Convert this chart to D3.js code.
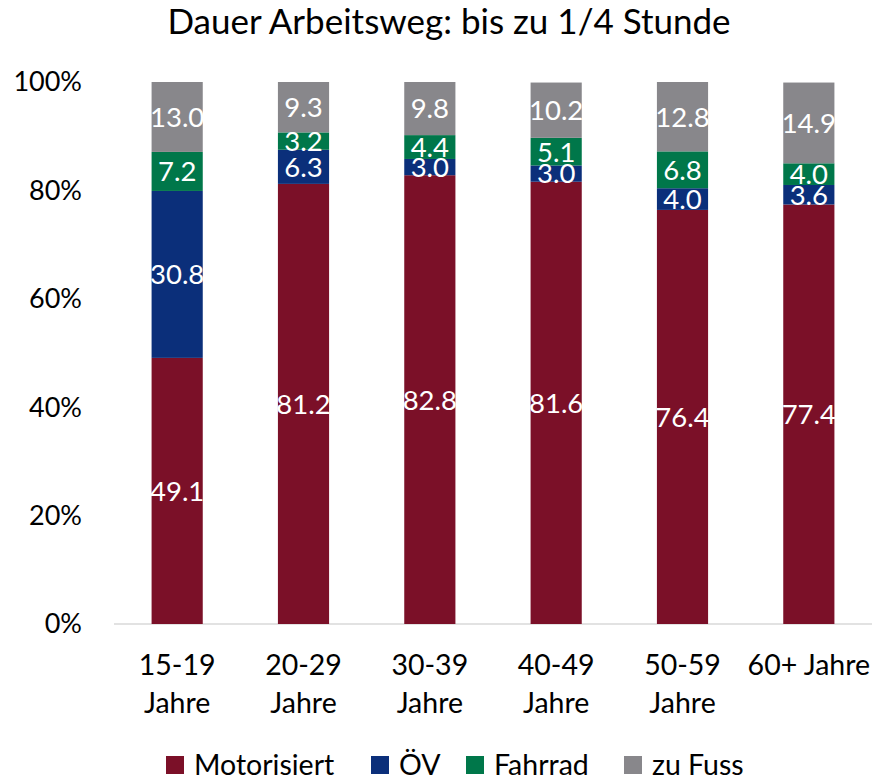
<!DOCTYPE html>
<html><head><meta charset="utf-8">
<script src="https://cdn.jsdelivr.net/npm/d3@7"></script>
<style>body{margin:0;background:#fff;} svg{display:block;font-family:Lato,"Open Sans",sans-serif;}</style>
</head><body><svg id="c" width="877" height="781"></svg>
<script>
const categories = ["15-19 Jahre","20-29 Jahre","30-39 Jahre","40-49 Jahre","50-59 Jahre","60+ Jahre"];
const catLines = [["15-19","Jahre"],["20-29","Jahre"],["30-39","Jahre"],["40-49","Jahre"],["50-59","Jahre"],["60+ Jahre"]];
const seriesNames = ["Motorisiert","ÖV","Fahrrad","zu Fuss"];
const motorisiert = [49.1,81.2,82.8,81.6,76.4,77.4];
const oev = [30.8,6.3,3.0,3.0,4.0,3.6];
const fahrrad = [7.2,3.2,4.4,5.1,6.8,4.0];
const zuFuss = [13.0,9.3,9.8,10.2,12.8,14.9];
const yTicks = [0,20,40,60,80,100];
const colors = ["#7b1028","#0b2f7a","#00774a","#88878b"];
const title = "Dauer Arbeitsweg: bis zu 1/4 Stunde";

const svg = d3.select("#c");
const m = {l:114, r:5, t:82, b:157};
const W = 877, H = 781;
const x = d3.scaleBand().domain(categories).range([m.l, W-m.r]).paddingInner(0.595).paddingOuter(0.2975);
const y = d3.scaleLinear().domain([0,100]).range([H-m.b, m.t]);

const rows = categories.map((c,i)=>({cat:c,"Motorisiert":motorisiert[i],"ÖV":oev[i],"Fahrrad":fahrrad[i],"zu Fuss":zuFuss[i]}));
const stack = d3.stack().keys(seriesNames)(rows);

svg.append("text").attr("x",449).attr("y",34).attr("text-anchor","middle").attr("font-size",35).attr("fill","#000").text(title);

// y axis labels
svg.append("g").selectAll("text").data(yTicks).join("text")
  .attr("x",82).attr("y",d=>y(d)).attr("dy","0.35em").attr("text-anchor","end").attr("font-size",27).attr("fill","#000")
  .text(d=>d+"%");

// baseline
svg.append("line").attr("x1",m.l).attr("x2",W-m.r).attr("y1",y(0)).attr("y2",y(0)).attr("stroke","#d9d9d9").attr("stroke-width",1.5);

const g = svg.append("g");
stack.forEach((s,si)=>{
  g.append("g").selectAll("rect").data(s).join("rect")
    .attr("x",d=>x(d.data.cat)).attr("width",x.bandwidth())
    .attr("y",d=>y(Math.min(d[1],100))).attr("height",d=>y(d[0])-y(Math.min(d[1],100)))
    .attr("fill",colors[si]);
});
stack.forEach((s,si)=>{
  g.append("g").selectAll("text").data(s).join("text")
    .attr("x",d=>x(d.data.cat)+x.bandwidth()/2)
    .attr("y",d=>(y(d[0])+y(Math.min(d[1],100)))/2).attr("dy","0.36em")
    .attr("text-anchor","middle").attr("font-size",27.5).attr("fill","#fff")
    .text(d=>(d[1]-d[0]).toFixed(1));
});

// x labels
categories.forEach((c,i)=>{
  const t = svg.append("text").attr("x",x(c)+x.bandwidth()/2).attr("text-anchor","middle").attr("font-size",28.5).attr("fill","#000");
  catLines[i].forEach((ln,j)=>t.append("tspan").attr("x",x(c)+x.bandwidth()/2).attr("y",675+j*38).text(ln));
});

// legend
const legendX = [166,371,466,624];
const lg = svg.append("g");
seriesNames.forEach((n,i)=>{
  lg.append("rect").attr("x",legendX[i]).attr("y",756).attr("width",18).attr("height",18).attr("fill",colors[i]);
  lg.append("text").attr("x",legendX[i]+28).attr("y",765).attr("dy","0.35em").attr("font-size",28.5).attr("fill","#000").text(n);
});
</script></body></html>
